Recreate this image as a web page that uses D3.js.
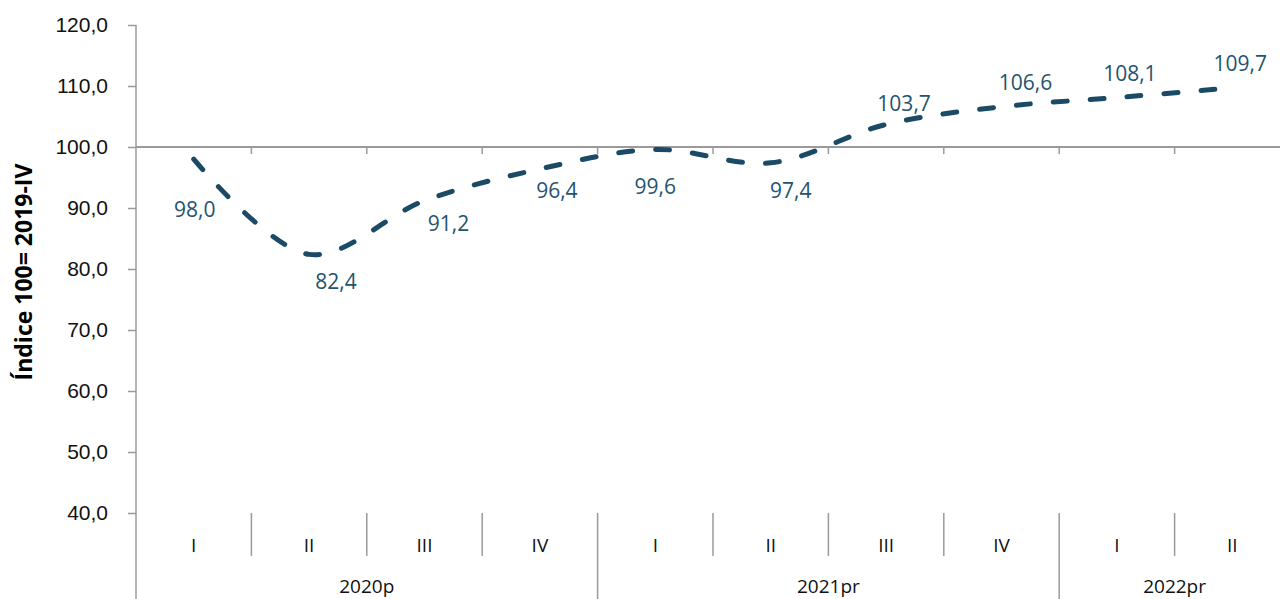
<!DOCTYPE html>
<html>
<head>
<meta charset="utf-8">
<script src="https://cdn.jsdelivr.net/npm/d3@7"></script>
<style>
    body { margin: 0; background: #fff; }
    svg { display: block; font-family: "Open Sans", "Noto Sans", sans-serif; }
</style>
</head>
<body>
<svg id="chart" width="1280" height="599"></svg>
<script>
'use strict';

var quarters = ['I', 'II', 'III', 'IV', 'I', 'II', 'III', 'IV', 'I', 'II'];
var years = ['2020p', '2021pr', '2022pr'];
var yearSpans = [4, 4, 2];
var values = [98.0, 82.4, 91.2, 96.4, 99.6, 97.4, 103.7, 106.6, 108.1, 109.7];
var yTicks = [40, 50, 60, 70, 80, 90, 100, 110, 120];

// label placement relative to its point (dx, dy)
var labelOffsets = [[1, 50], [27, 27], [24, 22], [17, 21], [0, 37], [20, 27], [18, -21], [24, -25], [13, -25], [8, -25]];

var LINE_COLOR = '#1a4a66';
var LABEL_COLOR = '#23536f';
var AXIS_COLOR = '#9a9a9a';

var svg = d3.select('#chart');
var plotLeft = 136, plotRight = 1290, plotTop = 25, plotBottom = 513;

var x = d3.scaleBand().domain(d3.range(values.length)).range([plotLeft, plotRight]);
var y = d3.scaleLinear().domain([40, 120]).range([plotBottom, plotTop]);

function cx(i) { return x(i) + x.bandwidth() / 2; }
function fmt(d) { return d3.format('.1f')(d).replace('.', ','); }

// y axis
var yAxis = d3.axisLeft(y).tickValues(yTicks).tickSize(8).tickPadding(20).tickFormat(fmt);
var gy = svg.append('g').attr('transform', 'translate(' + plotLeft + ',0)').call(yAxis);
gy.select('.domain').remove();
gy.selectAll('.tick line').attr('stroke', AXIS_COLOR).attr('stroke-width', 1.5);
gy.selectAll('.tick text').attr('fill', '#111').style('font-size', '21px');
svg.append('line').attr('x1', plotLeft).attr('x2', plotLeft).attr('y1', plotTop).attr('y2', 599)
    .attr('stroke', AXIS_COLOR).attr('stroke-width', 1.5);

// horizontal axis crossing at 100
svg.append('line').attr('x1', plotLeft).attr('x2', plotRight).attr('y1', y(100)).attr('y2', y(100))
    .attr('stroke', AXIS_COLOR).attr('stroke-width', 2);
d3.range(1, values.length).forEach(function (i) {
    svg.append('line').attr('x1', x(i)).attr('x2', x(i)).attr('y1', y(100)).attr('y2', y(100) + 7)
        .attr('stroke', AXIS_COLOR).attr('stroke-width', 1.5);
});

// category labels at the bottom
var yearStarts = [];
var acc = 0;
yearSpans.forEach(function (n) { yearStarts.push(acc); acc += n; });

d3.range(1, values.length).forEach(function (i) {
    var isYear = yearStarts.indexOf(i) >= 0;
    svg.append('line').attr('x1', x(i)).attr('x2', x(i)).attr('y1', plotBottom).attr('y2', isYear ? 599 : 556)
        .attr('stroke', AXIS_COLOR).attr('stroke-width', 1.5);
});

svg.selectAll('.quarter').data(quarters).enter().append('text')
    .attr('class', 'quarter')
    .attr('x', function (d, i) { return cx(i); }).attr('y', 552)
    .attr('text-anchor', 'middle').attr('fill', '#111').style('font-size', '19px')
    .text(function (d) { return d; });

svg.selectAll('.year').data(years).enter().append('text')
    .attr('class', 'year')
    .attr('x', function (d, i) {
        var a = x(yearStarts[i]);
        var b = x(yearStarts[i] + yearSpans[i] - 1) + x.bandwidth();
        return (a + b) / 2;
    })
    .attr('y', 593)
    .attr('text-anchor', 'middle').attr('fill', '#111').style('font-size', '19px')
    .text(function (d) { return d; });

// y title
svg.append('text').attr('transform', 'translate(32,272) rotate(-90)')
    .attr('text-anchor', 'middle').attr('fill', '#000')
    .style('font-size', '23px').style('font-weight', 'bold')
    .text('Índice 100= 2019-IV');

// line
var line = d3.line().x(function (d, i) { return cx(i); }).y(function (d) { return y(d); })
    .curve(d3.curveCatmullRom.alpha(0.5));
svg.append('path').datum(values).attr('d', line)
    .attr('fill', 'none').attr('stroke', LINE_COLOR).attr('stroke-width', 5)
    .attr('stroke-linecap', 'round').attr('stroke-dasharray', '14,23');

// data labels
svg.selectAll('.dlabel').data(values).enter().append('text')
    .attr('class', 'dlabel')
    .attr('x', function (d, i) { return cx(i) + labelOffsets[i][0]; })
    .attr('y', function (d, i) { return y(d) + labelOffsets[i][1]; })
    .attr('text-anchor', 'middle').attr('dominant-baseline', 'central')
    .attr('fill', LABEL_COLOR).style('font-size', '21px')
    .text(fmt);
</script>
</body>
</html>
